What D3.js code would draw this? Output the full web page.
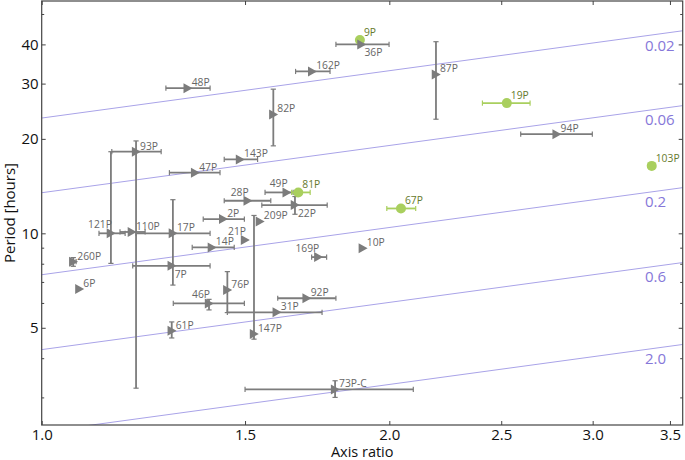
<!DOCTYPE html>
<html><head><meta charset="utf-8">
<script src="https://cdn.jsdelivr.net/npm/d3@7"></script>
<style>body{margin:0;background:#fff}svg{display:block;font-family:"Open Sans",sans-serif}</style>
</head><body><svg id="c" width="685" height="460"></svg>
<script>
// ---- data ----
const names      = ["9P","36P","162P","48P","87P","82P","19P","94P","93P","143P","103P","47P","49P","81P","28P","22P","67P","2P","209P","110P","121P","17P","21P","14P","10P","169P","260P","7P","6P","76P","92P","46P","31P","61P","147P","73P-C"];
const axisRatio  = [1.886,1.892,1.715,1.338,2.195,1.587,2.528,2.792,1.207,1.485,3.375,1.358,1.630,1.668,1.508,1.657,2.047,1.436,1.545,1.197,1.148,1.299,1.500,1.404,1.897,1.736,1.065,1.296,1.078,1.448,1.696,1.396,1.598,1.296,1.527,1.795];
const periodH    = [41.3,40.0,32.8,29.0,32.1,23.9,26.0,20.7,18.2,17.2,16.4,15.6,13.5,13.5,12.7,12.3,12.0,11.1,10.9,10.1,10.0,10.0,9.52,9.02,8.96,8.40,8.12,7.88,6.65,6.60,6.21,5.98,5.60,4.89,4.78,3.18];
const ratioLow   = [null,1.798,1.659,1.281,null,null,2.408,2.599,1.150,1.439,null,1.290,1.561,1.646,1.439,1.551,1.990,1.380,null,1.169,1.121,1.207,null,1.350,null,1.713,1.060,1.199,null,null,1.601,1.300,1.448,null,null,1.500];
const ratioHigh  = [null,1.999,1.777,1.399,null,null,2.648,2.998,1.269,1.538,null,1.427,1.651,1.708,1.579,1.767,2.108,1.498,null,1.229,1.181,1.399,null,1.468,null,1.765,1.071,1.399,null,null,1.798,1.498,1.749,null,null,2.098];
const periodLow  = [null,null,null,null,23.1,19.0,null,null,3.21,null,null,null,null,null,null,11.5,null,null,null,null,8.02,6.84,null,null,null,null,7.85,null,null,5.59,null,5.70,null,4.64,4.60,3.00];
const periodHigh = [null,null,null,null,40.8,28.8,null,null,19.7,null,null,null,null,null,null,13.1,null,null,null,null,18.2,12.8,null,null,null,null,8.37,null,null,7.55,null,6.16,null,5.22,11.4,3.39];
const markerKind = ["circle","tri","tri","tri","tri","tri","circle","tri","tri","tri","circle","tri","tri","circle","tri","tri","circle","tri","tri","tri","tri","tri","tri","tri","tri","tri","tri","tri","tri","tri","tri","tri","tri","tri","tri","tri"];
// label placement: ur = upper right, ul = upper left, lr = lower right
const labelSide  = ["ur","lr","ur","ur","ur","ur","ur","ur","ur","ur","ur","ur","ul","ur","ul","lr","ur","ur","ur","ur","ul","ur","ul","ur","ur","ul","ur","lr","ur","ur","ur","ul","ur","ur","ur","ur"];

// density curves: period at axis ratio 1.0 and 3.6
const densityLabels = ["0.02","0.06","0.2","0.6","2.0"];
const curveRatio    = [1.0, 3.6];
const curvePeriodA  = [23.3, 13.47, 7.38, 4.26, 2.33];
const curvePeriodB  = [44.27, 25.56, 14.0, 8.08, 4.43];

const xTicks = [1.0,1.5,2.0,2.5,3.0,3.5];
const yTicks = [5,10,20,30,40];
const yMinorTicks = [3,4,6,7,8,9,50];

// ---- layout ----
const W=685,H=460,m={l:41.7,r:2.3,t:1,b:35};
const svg=d3.select("#c");
const x=d3.scaleLog().domain([1.0,3.59]).range([m.l,W-m.r]);
const y=d3.scaleLog().domain([2.45,55]).range([H-m.b,m.t]);
const GRAY="#7c7c7c", GREEN="#a9cf5e", LGRAY="#666", LGREEN="#667a2c", PURPLE="#a9a3e8", PTXT="#8677d9";

svg.append("defs").append("clipPath").attr("id","clip").append("rect")
  .attr("x",m.l).attr("y",m.t).attr("width",W-m.l-m.r).attr("height",H-m.t-m.b);

// density lines
const dl=svg.append("g").attr("clip-path","url(#clip)");
const dt=svg.append("g").attr("opacity",0.999);
densityLabels.forEach((d,i)=>{
  dl.append("line").attr("x1",x(curveRatio[0])).attr("y1",y(curvePeriodA[i]))
    .attr("x2",x(curveRatio[1])).attr("y2",y(curvePeriodB[i]))
    .attr("stroke",PURPLE).attr("stroke-width",1);
  dt.append("text").attr("x",W-40).attr("y",y(curvePeriodB[i])+20)
    .attr("fill",PTXT).attr("font-size",15).text(d);
});

// axes
function styleAxis(g){g.select(".domain").remove();g.selectAll("line").attr("stroke","#444");g.selectAll("text").attr("fill","#111").attr("font-family","'Open Sans',sans-serif");}
svg.append("g").attr("transform",`translate(0,${H-m.b})`)
  .call(d3.axisBottom(x).tickValues(xTicks).tickFormat(d3.format(".1f")).tickSize(-4).tickPadding(4))
  .call(styleAxis).selectAll("text").attr("font-size",15);
svg.append("g").attr("transform",`translate(0,${m.t})`)
  .call(d3.axisTop(x).tickValues(xTicks).tickFormat("").tickSize(-4)).call(styleAxis);
svg.append("g").attr("transform",`translate(${m.l},0)`)
  .call(d3.axisLeft(y).tickValues(yTicks).tickFormat(d3.format("d")).tickSize(-4).tickPadding(3))
  .call(styleAxis).selectAll("text").attr("font-size",15);
svg.append("g").attr("transform",`translate(${m.l},0)`)
  .call(d3.axisLeft(y).tickValues(yMinorTicks).tickFormat("").tickSize(-2.5)).call(styleAxis);
svg.append("g").attr("transform",`translate(${W-m.r},0)`)
  .call(d3.axisRight(y).tickValues(yTicks).tickFormat("").tickSize(-4)).call(styleAxis);
svg.append("g").attr("transform",`translate(${W-m.r},0)`)
  .call(d3.axisRight(y).tickValues(yMinorTicks).tickFormat("").tickSize(-2.5)).call(styleAxis);
svg.append("rect").attr("x",m.l).attr("y",m.t).attr("width",W-m.l-m.r).attr("height",H-m.t-m.b)
  .attr("fill","none").attr("stroke","#444").attr("stroke-width",1.2);

svg.append("text").attr("x",(m.l+W-m.r)/2).attr("y",457).attr("text-anchor","middle")
  .attr("font-size",14.5).attr("fill","#111").text("Axis ratio");
svg.append("text").attr("transform",`translate(15,${(m.t+H-m.b)/2}) rotate(-90)`).attr("text-anchor","middle")
  .attr("font-size",15).attr("fill","#111").text("Period [hours]");

// error bars
const eb=svg.append("g");
const cap=2.6;
names.forEach((n,i)=>{
  const c=markerKind[i]==="circle"?GREEN:GRAY;
  const px=x(axisRatio[i]), py=y(periodH[i]);
  if(ratioLow[i]!=null){
    const a=x(ratioLow[i]), b=x(ratioHigh[i]);
    eb.append("line").attr("x1",a).attr("x2",b).attr("y1",py).attr("y2",py).attr("stroke",c).attr("stroke-width",1.8);
    [a,b].forEach(v=>eb.append("line").attr("x1",v).attr("x2",v).attr("y1",py-cap).attr("y2",py+cap).attr("stroke",c).attr("stroke-width",1.2));
  }
  if(periodLow[i]!=null){
    const a=y(periodLow[i]), b=y(periodHigh[i]);
    eb.append("line").attr("x1",px).attr("x2",px).attr("y1",a).attr("y2",b).attr("stroke",c).attr("stroke-width",1.8);
    [a,b].forEach(v=>eb.append("line").attr("x1",px-cap).attr("x2",px+cap).attr("y1",v).attr("y2",v).attr("stroke",c).attr("stroke-width",1.2));
  }
});

// markers
const mk=svg.append("g");
names.forEach((n,i)=>{
  const px=x(axisRatio[i]), py=y(periodH[i]);
  if(markerKind[i]==="circle"){
    mk.append("circle").attr("cx",px).attr("cy",py).attr("r",5).attr("fill",GREEN);
  } else {
    mk.append("path").attr("d","M-4.2,-5L4.8,0L-4.2,5Z").attr("transform",`translate(${px},${py})`).attr("fill",GRAY);
  }
});

// labels
const lb=svg.append("g").attr("font-size",10.3).attr("opacity",0.999);
names.forEach((n,i)=>{
  const px=x(axisRatio[i]), py=y(periodH[i]);
  const green=markerKind[i]==="circle";
  const t=lb.append("text").text(n).attr("fill",green?LGREEN:LGRAY);
  if(labelSide[i]==="ul"){ t.attr("x",px+1).attr("y",py-5).attr("text-anchor","end"); }
  else if(labelSide[i]==="lr"){ t.attr("x",px+3).attr("y",py+11.8); }
  else { t.attr("x",px+4).attr("y",py+(green?-4.3:-2.2)); }
});
</script></body></html>
